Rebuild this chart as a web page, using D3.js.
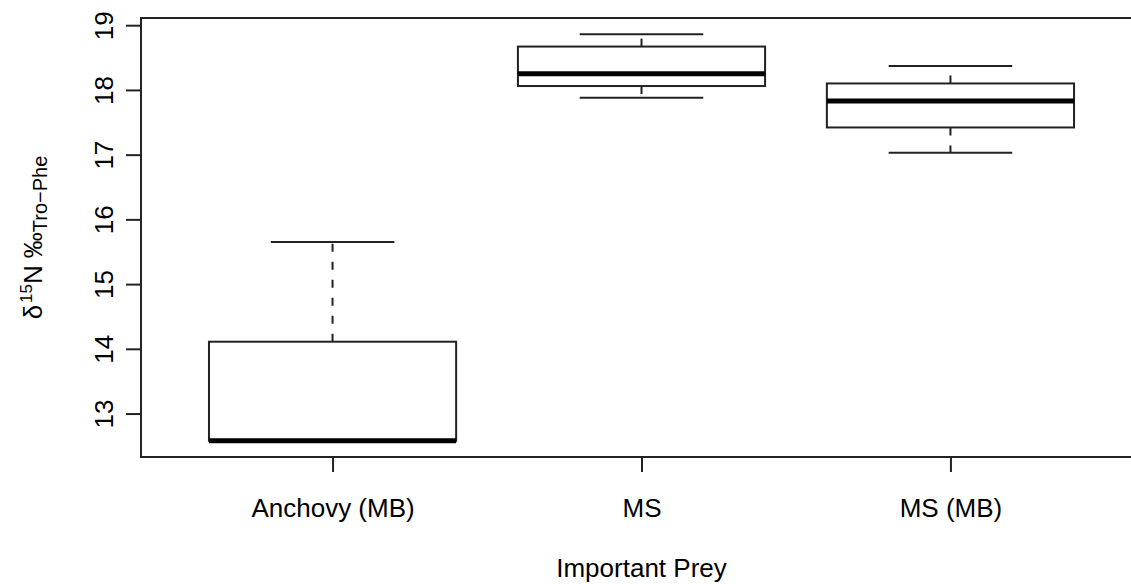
<!DOCTYPE html>
<html>
<head>
<meta charset="utf-8">
<script src="https://cdn.jsdelivr.net/npm/d3@7"></script>
<style>
  html, body { margin: 0; padding: 0; background: #fff; }
  svg { display: block; }
  text { font-family: "Liberation Sans", Arial, Helvetica, sans-serif; fill: #000; }
</style>
</head>
<body>
<svg id="chart"></svg>
<script>
// boxplot stats per category
var categories = ["Anchovy (MB)", "MS", "MS (MB)"];
var lowerWhisker = [12.58, 17.88, 17.03];
var q1 = [12.58, 18.06, 17.42];
var median = [12.58, 18.25, 17.83];
var q3 = [14.11, 18.67, 18.10];
var upperWhisker = [15.65, 18.86, 18.37];
var yTicks = [13, 14, 15, 16, 17, 18, 19];
var xTitle = "Important Prey";

var drawBoxplot = function(svgSelector) {

    let width = 1131,
        height = 584,
        fontSize = 26,
        line = 30, // R margin line height
        plot = { left: 141, top: 18, bottom: 457, right: 1142 };

    let svg = d3.select(svgSelector)
        .attr("width", width)
        .attr("height", height)
        .attr("viewBox", [0, 0, width, height].join(" "));

    let data = categories.map((c, i) => ({
        name: c,
        pos: i + 1,
        lo: lowerWhisker[i],
        q1: q1[i],
        med: median[i],
        q3: q3[i],
        hi: upperWhisker[i]
    }));

    // R style axis range: data range padded by 4% on each side
    let yMin = d3.min(lowerWhisker),
        yMax = d3.max(upperWhisker),
        pad = (yMax - yMin) * 0.04;

    let y = d3.scaleLinear()
            .domain([yMin - pad, yMax + pad])
            .range([plot.bottom, plot.top]),
        n = categories.length,
        xPad = n * 0.04,
        x = d3.scaleLinear()
            .domain([0.5 - xPad, n + 0.5 + xPad])
            .range([plot.left, plot.right]);

    let boxW = x(1.4) - x(1),  // half of 0.8 box width
        capW = boxW / 2;

    let stroke = "#222";

    // boxes
    let g = svg.append("g")
        .selectAll("g")
        .data(data)
        .enter()
        .append("g");

    // whiskers (dashed)
    g.append("line")
        .attr("x1", d => x(d.pos)).attr("x2", d => x(d.pos))
        .attr("y1", d => y(d.q3)).attr("y2", d => y(d.hi))
        .attr("stroke", stroke).attr("stroke-width", 2)
        .attr("stroke-dasharray", "8,10");
    g.append("line")
        .attr("x1", d => x(d.pos)).attr("x2", d => x(d.pos))
        .attr("y1", d => y(d.q1)).attr("y2", d => y(d.lo))
        .attr("stroke", stroke).attr("stroke-width", 2)
        .attr("stroke-dasharray", "8,10");

    // staples
    g.append("line")
        .attr("x1", d => x(d.pos) - capW).attr("x2", d => x(d.pos) + capW)
        .attr("y1", d => y(d.hi)).attr("y2", d => y(d.hi))
        .attr("stroke", stroke).attr("stroke-width", 2);
    g.append("line")
        .attr("x1", d => x(d.pos) - capW).attr("x2", d => x(d.pos) + capW)
        .attr("y1", d => y(d.lo)).attr("y2", d => y(d.lo))
        .attr("stroke", stroke).attr("stroke-width", 2);

    g.append("rect")
        .attr("x", d => x(d.pos) - boxW)
        .attr("width", boxW * 2)
        .attr("y", d => y(d.q3))
        .attr("height", d => y(d.q1) - y(d.q3))
        .attr("fill", "#fff")
        .attr("stroke", stroke)
        .attr("stroke-width", 2);

    // median
    g.append("line")
        .attr("x1", d => x(d.pos) - boxW).attr("x2", d => x(d.pos) + boxW)
        .attr("y1", d => y(d.med)).attr("y2", d => y(d.med))
        .attr("stroke", "#000").attr("stroke-width", 5);

    // frame
    svg.append("rect")
        .attr("x", plot.left).attr("y", plot.top)
        .attr("width", plot.right - plot.left)
        .attr("height", plot.bottom - plot.top)
        .attr("fill", "none")
        .attr("stroke", stroke)
        .attr("stroke-width", 2);

    // x axis
    let xAxis = d3.axisBottom(x)
        .tickValues(data.map(d => d.pos))
        .tickFormat((d, i) => categories[i])
        .tickSize(15)
        .tickPadding(0);

    let xg = svg.append("g")
        .attr("transform", `translate(0,${plot.bottom})`)
        .call(xAxis);
    xg.select(".domain")
        .attr("d", `M${x(1)},0H${x(n)}`)
        .attr("stroke", stroke).attr("stroke-width", 2);
    xg.selectAll(".tick line").attr("stroke", stroke).attr("stroke-width", 2);
    xg.selectAll(".tick text")
        .attr("font-size", fontSize)
        .attr("font-family", "Liberation Sans, Arial, sans-serif")
        .attr("fill", "#111")
        .attr("dy", null)
        .attr("y", 2 * line);

    // y axis
    let yAxis = d3.axisLeft(y)
        .tickValues(yTicks)
        .tickFormat(d3.format("d"))
        .tickSize(15)
        .tickPadding(0);

    let yg = svg.append("g")
        .attr("transform", `translate(${plot.left},0)`)
        .call(yAxis);
    yg.select(".domain")
        .attr("d", `M0,${y(yTicks[0])}V${y(yTicks[yTicks.length - 1])}`)
        .attr("stroke", stroke).attr("stroke-width", 2);
    yg.selectAll(".tick line").attr("stroke", stroke).attr("stroke-width", 2);
    yg.selectAll(".tick text")
        .attr("font-size", fontSize)
        .attr("font-family", "Liberation Sans, Arial, sans-serif")
        .attr("fill", "#111")
        .attr("x", null).attr("dy", null)
        .attr("text-anchor", "middle")
        .attr("transform", `translate(${-line + 2},0) rotate(-90)`);

    // axis titles
    svg.append("text")
        .attr("x", x((1 + n) / 2))
        .attr("y", plot.bottom + 4 * line)
        .attr("text-anchor", "middle")
        .attr("font-size", fontSize)
        .attr("fill", "#111")
        .text(xTitle);

    let yt = svg.append("text")
        .attr("transform", `translate(42,${(plot.top + plot.bottom) / 2}) rotate(-90)`)
        .attr("text-anchor", "middle")
        .attr("font-size", fontSize)
        .attr("fill", "#111");
    yt.append("tspan").text("δ");
    yt.append("tspan").attr("font-size", 17).attr("dx", 2).attr("dy", -10).text("15");
    yt.append("tspan").attr("dy", 10).text("N");
    yt.append("tspan").attr("dx", 7).text("‰");
    yt.append("tspan").attr("font-size", 20).attr("dy", 5).text("Tro−Phe");
}

drawBoxplot("#chart");
</script>
</body>
</html>
